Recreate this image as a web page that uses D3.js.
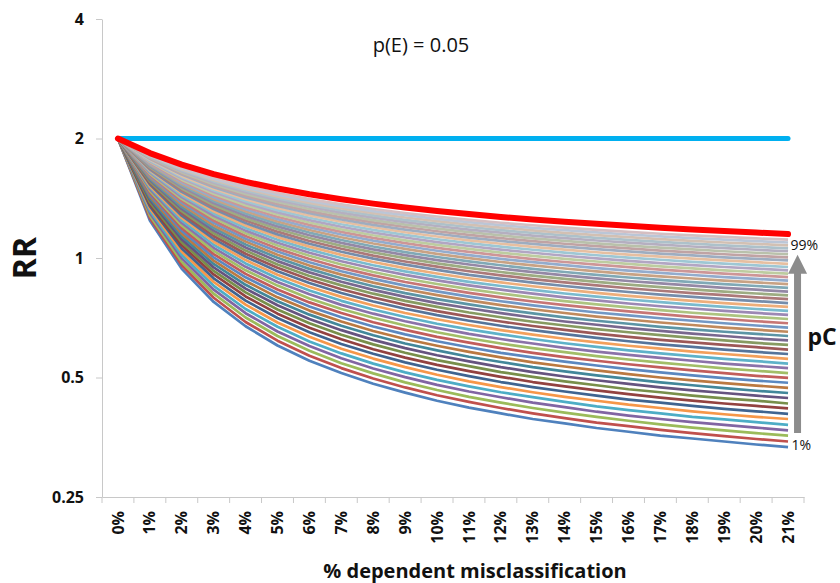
<!DOCTYPE html>
<html lang="en">
<head>
<meta charset="UTF-8">
<title>RR vs % dependent misclassification</title>
<style>
  body { margin: 0; background: #fff; }
  svg text { font-family: "Open Sans", "Liberation Sans", sans-serif; fill: #111; }
  .axis path, .axis line { stroke: #c8c8c8; }
</style>
</head>
<body>
<svg id="chart" width="840" height="583"></svg>
<script src="https://cdn.jsdelivr.net/npm/d3@7"></script>
<script>
// x categories: % dependent misclassification
const categories = ["0%","1%","2%","3%","4%","5%","6%","7%","8%","9%","10%",
  "11%","12%","13%","14%","15%","16%","17%","18%","19%","20%","21%"];
const yTicks = [0.25, 0.5, 1, 2, 4];

// true RR (blue line)
const trueRR = [2,2,2,2,2,2,2,2,2,2,2,2,2,2,2,2,2,2,2,2,2,2];

// red line
const independentRR = [2,1.838,1.719,1.627,1.555,1.496,1.447,1.406,1.371,1.340,1.314,1.290,1.269,1.251,1.234,1.219,1.205,1.192,1.180,1.169,1.159,1.149];

// pC of each drawn line, bottom (1%) to top (99%)
const pcLevels = [1,3,5,7,9,11,13,15,17,19,21,23,25,27,29,31,33,35,37,39,41,43,45,47,49,
  51,53,55,57,59,61,63,65,67,69,71,73,75,77,79,81,83,85,87,89,91,93,95,97,99];

const dependentRR = [
  [2,1.243,0.939,0.775,0.673,0.602,0.551,0.513,0.482,0.458,0.437,0.420,0.406,0.393,0.383,0.373,0.365,0.357,0.351,0.345,0.339,0.334],
  [2,1.261,0.959,0.794,0.690,0.619,0.567,0.528,0.497,0.472,0.451,0.434,0.419,0.406,0.395,0.385,0.377,0.369,0.362,0.356,0.350,0.345],
  [2,1.280,0.978,0.813,0.708,0.636,0.584,0.543,0.512,0.486,0.465,0.447,0.432,0.419,0.408,0.398,0.389,0.381,0.374,0.368,0.362,0.357],
  [2,1.298,0.998,0.832,0.726,0.653,0.600,0.559,0.527,0.501,0.479,0.461,0.446,0.432,0.421,0.410,0.401,0.393,0.386,0.380,0.374,0.368],
  [2,1.315,1.017,0.851,0.744,0.671,0.616,0.575,0.542,0.515,0.493,0.475,0.459,0.446,0.434,0.423,0.414,0.406,0.398,0.392,0.386,0.380],
  [2,1.333,1.037,0.870,0.763,0.688,0.633,0.591,0.558,0.531,0.508,0.489,0.473,0.459,0.447,0.437,0.427,0.419,0.411,0.404,0.398,0.393],
  [2,1.350,1.057,0.889,0.781,0.706,0.650,0.607,0.574,0.546,0.523,0.504,0.487,0.473,0.461,0.450,0.440,0.432,0.424,0.417,0.411,0.405],
  [2,1.367,1.076,0.909,0.800,0.724,0.667,0.624,0.589,0.561,0.538,0.519,0.502,0.487,0.475,0.464,0.454,0.445,0.437,0.430,0.424,0.418],
  [2,1.383,1.095,0.928,0.819,0.742,0.685,0.641,0.606,0.577,0.553,0.534,0.516,0.502,0.489,0.478,0.467,0.459,0.450,0.443,0.437,0.430],
  [2,1.400,1.114,0.947,0.837,0.760,0.702,0.658,0.622,0.593,0.569,0.549,0.531,0.516,0.503,0.492,0.482,0.472,0.464,0.457,0.450,0.444],
  [2,1.416,1.133,0.966,0.856,0.778,0.720,0.675,0.639,0.609,0.585,0.564,0.547,0.531,0.518,0.506,0.496,0.486,0.478,0.470,0.463,0.457],
  [2,1.431,1.152,0.985,0.875,0.796,0.737,0.692,0.655,0.625,0.601,0.580,0.562,0.546,0.533,0.521,0.510,0.500,0.492,0.484,0.477,0.471],
  [2,1.447,1.170,1.004,0.894,0.815,0.755,0.709,0.672,0.642,0.617,0.596,0.577,0.562,0.548,0.536,0.525,0.515,0.506,0.498,0.491,0.485],
  [2,1.462,1.189,1.023,0.912,0.833,0.773,0.727,0.689,0.659,0.633,0.612,0.593,0.577,0.563,0.551,0.540,0.530,0.521,0.513,0.505,0.499],
  [2,1.477,1.207,1.042,0.931,0.852,0.791,0.744,0.707,0.676,0.650,0.628,0.609,0.593,0.579,0.566,0.555,0.545,0.536,0.527,0.520,0.513],
  [2,1.491,1.225,1.061,0.950,0.870,0.810,0.762,0.724,0.693,0.667,0.644,0.625,0.609,0.594,0.581,0.570,0.560,0.551,0.542,0.535,0.528],
  [2,1.506,1.243,1.080,0.969,0.889,0.828,0.780,0.742,0.710,0.683,0.661,0.642,0.625,0.610,0.597,0.585,0.575,0.566,0.557,0.550,0.542],
  [2,1.519,1.261,1.099,0.988,0.907,0.846,0.798,0.759,0.727,0.701,0.678,0.658,0.641,0.626,0.613,0.601,0.591,0.581,0.573,0.565,0.557],
  [2,1.533,1.278,1.117,1.007,0.926,0.865,0.816,0.777,0.745,0.718,0.695,0.675,0.658,0.643,0.629,0.617,0.606,0.597,0.588,0.580,0.573],
  [2,1.546,1.295,1.136,1.025,0.945,0.883,0.834,0.795,0.762,0.735,0.712,0.692,0.674,0.659,0.645,0.633,0.622,0.613,0.604,0.596,0.588],
  [2,1.559,1.312,1.154,1.044,0.963,0.901,0.853,0.813,0.780,0.753,0.729,0.709,0.691,0.676,0.662,0.650,0.639,0.629,0.620,0.611,0.604],
  [2,1.572,1.329,1.172,1.063,0.982,0.920,0.871,0.831,0.798,0.770,0.747,0.726,0.708,0.692,0.679,0.666,0.655,0.645,0.636,0.627,0.620],
  [2,1.584,1.345,1.190,1.081,1.001,0.939,0.889,0.849,0.816,0.788,0.764,0.743,0.725,0.709,0.695,0.683,0.671,0.661,0.652,0.644,0.636],
  [2,1.597,1.362,1.208,1.100,1.019,0.957,0.908,0.867,0.834,0.806,0.782,0.761,0.743,0.727,0.712,0.700,0.688,0.678,0.668,0.660,0.652],
  [2,1.608,1.378,1.226,1.118,1.038,0.976,0.926,0.886,0.852,0.824,0.799,0.778,0.760,0.744,0.729,0.717,0.705,0.695,0.685,0.676,0.668],
  [2,1.620,1.393,1.243,1.136,1.056,0.994,0.944,0.904,0.870,0.842,0.817,0.796,0.777,0.761,0.747,0.734,0.722,0.711,0.702,0.693,0.685],
  [2,1.631,1.409,1.261,1.154,1.075,1.013,0.963,0.922,0.888,0.860,0.835,0.814,0.795,0.779,0.764,0.751,0.739,0.728,0.719,0.710,0.702],
  [2,1.642,1.424,1.278,1.172,1.093,1.031,0.981,0.941,0.907,0.878,0.853,0.832,0.813,0.796,0.782,0.768,0.756,0.746,0.736,0.727,0.719],
  [2,1.653,1.439,1.295,1.190,1.111,1.050,1.000,0.959,0.925,0.896,0.871,0.850,0.831,0.814,0.799,0.786,0.774,0.763,0.753,0.744,0.736],
  [2,1.663,1.454,1.311,1.208,1.129,1.068,1.018,0.977,0.943,0.914,0.889,0.868,0.849,0.832,0.817,0.803,0.791,0.780,0.770,0.761,0.753],
  [2,1.673,1.468,1.328,1.225,1.147,1.086,1.037,0.996,0.962,0.933,0.907,0.886,0.867,0.850,0.835,0.821,0.809,0.798,0.788,0.779,0.770],
  [2,1.683,1.483,1.344,1.243,1.165,1.104,1.055,1.014,0.980,0.951,0.926,0.904,0.885,0.868,0.853,0.839,0.827,0.816,0.806,0.796,0.788],
  [2,1.693,1.497,1.360,1.260,1.183,1.123,1.073,1.033,0.999,0.969,0.944,0.922,0.903,0.886,0.871,0.857,0.845,0.834,0.823,0.814,0.805],
  [2,1.703,1.511,1.376,1.277,1.201,1.141,1.092,1.051,1.017,0.988,0.963,0.941,0.921,0.904,0.889,0.875,0.863,0.852,0.841,0.832,0.823],
  [2,1.712,1.524,1.392,1.294,1.219,1.159,1.110,1.069,1.035,1.006,0.981,0.959,0.939,0.922,0.907,0.893,0.881,0.869,0.859,0.850,0.841],
  [2,1.721,1.537,1.407,1.311,1.236,1.176,1.128,1.088,1.054,1.024,0.999,0.977,0.958,0.941,0.925,0.911,0.899,0.888,0.877,0.868,0.859],
  [2,1.729,1.550,1.422,1.327,1.253,1.194,1.146,1.106,1.072,1.043,1.017,0.995,0.976,0.959,0.943,0.929,0.917,0.906,0.895,0.886,0.877],
  [2,1.738,1.563,1.437,1.343,1.270,1.212,1.164,1.124,1.090,1.061,1.036,1.014,0.994,0.977,0.962,0.948,0.935,0.924,0.913,0.904,0.895],
  [2,1.746,1.575,1.452,1.359,1.287,1.229,1.181,1.141,1.108,1.079,1.054,1.032,1.012,0.995,0.980,0.966,0.953,0.942,0.931,0.922,0.913],
  [2,1.754,1.587,1.466,1.375,1.303,1.246,1.199,1.159,1.126,1.097,1.072,1.050,1.031,1.013,0.998,0.984,0.971,0.960,0.949,0.940,0.931],
  [2,1.762,1.599,1.481,1.391,1.320,1.263,1.216,1.177,1.144,1.115,1.090,1.068,1.049,1.032,1.016,1.002,0.990,0.978,0.968,0.958,0.949],
  [2,1.769,1.610,1.494,1.406,1.336,1.280,1.234,1.195,1.161,1.133,1.108,1.086,1.067,1.050,1.034,1.020,1.008,0.996,0.986,0.976,0.967],
  [2,1.777,1.622,1.508,1.421,1.352,1.297,1.251,1.212,1.179,1.151,1.126,1.104,1.085,1.068,1.053,1.039,1.026,1.015,1.004,0.995,0.986],
  [2,1.784,1.633,1.521,1.436,1.368,1.313,1.267,1.229,1.197,1.168,1.144,1.122,1.103,1.086,1.071,1.057,1.044,1.033,1.022,1.012,1.004],
  [2,1.790,1.643,1.534,1.450,1.384,1.329,1.284,1.246,1.214,1.186,1.162,1.140,1.121,1.104,1.089,1.075,1.062,1.051,1.040,1.031,1.022],
  [2,1.797,1.654,1.547,1.465,1.399,1.346,1.301,1.264,1.231,1.204,1.179,1.158,1.139,1.122,1.107,1.093,1.081,1.069,1.059,1.049,1.040],
  [2,1.804,1.664,1.560,1.479,1.414,1.361,1.317,1.280,1.248,1.221,1.197,1.175,1.157,1.140,1.124,1.111,1.098,1.087,1.076,1.067,1.058],
  [2,1.810,1.674,1.572,1.493,1.429,1.377,1.333,1.297,1.265,1.238,1.214,1.193,1.174,1.157,1.142,1.129,1.116,1.105,1.094,1.085,1.076],
  [2,1.816,1.684,1.584,1.506,1.443,1.392,1.349,1.313,1.282,1.255,1.231,1.210,1.191,1.175,1.160,1.146,1.134,1.122,1.112,1.103,1.094],
  [2,1.822,1.693,1.596,1.519,1.458,1.407,1.365,1.329,1.298,1.272,1.248,1.227,1.209,1.192,1.177,1.164,1.151,1.140,1.130,1.120,1.112]
];

// office-style series colours
const palette = ["#4F81BD", "#C0504D", "#9BBB59", "#8064A2", "#4BACC6", "#F79646"];

const svg = d3.select("#chart");
const margin = { top: 19, right: 36, bottom: 86, left: 102 };
const width = 840 - margin.left - margin.right;
const height = 583 - margin.top - margin.bottom;

const x = d3.scaleBand().domain(categories).range([0, width]);
const y = d3.scaleLog().base(2).domain([0.25, 4]).range([height, 0]);
const cx = (d, i) => x(categories[i]) + x.bandwidth() / 2;

const g = svg.append("g").attr("transform", `translate(${margin.left},${margin.top})`);

// y axis
g.append("g")
  .attr("class", "axis")
  .call(d3.axisLeft(y).tickValues(yTicks).tickFormat(d => d).tickSize(6).tickSizeOuter(0).tickPadding(12))
  .call(a => a.selectAll("text").attr("font-size", 16).attr("font-weight", "bold").attr("fill", "#111"));

// x axis
const xAxis = g.append("g")
  .attr("class", "axis")
  .attr("transform", `translate(0,${height})`)
  .call(d3.axisBottom(x).tickSize(0).tickSizeOuter(0));
xAxis.selectAll("text")
  .attr("transform", "rotate(-90)")
  .attr("text-anchor", "end")
  .attr("x", -14)
  .attr("y", 0)
  .attr("dy", "0.35em")
  .attr("font-size", 16)
  .attr("font-weight", "bold")
  .attr("fill", "#111");
// tick marks between categories
xAxis.selectAll(".cat-tick")
  .data(categories.map(c => x(c)).concat([width]))
  .enter().append("line")
  .attr("x1", d => d).attr("x2", d => d)
  .attr("y1", 0).attr("y2", 6)
  .attr("stroke", "#c8c8c8");

// colour for each line of the fan
function lineColor(j, n) {
  let c = palette[j % 6];
  if (Math.floor(j / 6) % 2 === 1) c = d3.interpolateRgb(c, "#000")(0.25);
  const t = 0.8 * Math.pow(j / (n - 1), 1.6);
  return d3.interpolateRgb(c, "#dadade")(t);
}

const line = d3.line().x(cx).y(d => y(d));

g.append("g").selectAll("path")
  .data(dependentRR)
  .enter().append("path")
  .attr("d", line)
  .attr("fill", "none")
  .attr("stroke", (d, j) => lineColor(j, dependentRR.length))
  .attr("stroke-width", 2.7)
  .attr("stroke-linejoin", "round");

g.append("path")
  .datum(trueRR)
  .attr("d", line)
  .attr("fill", "none")
  .attr("stroke", "#00B0F0")
  .attr("stroke-width", 5)
  .attr("stroke-linecap", "round");

g.append("path")
  .datum(independentRR)
  .attr("d", line)
  .attr("fill", "none")
  .attr("stroke", "#FF0000")
  .attr("stroke-width", 6)
  .attr("stroke-linecap", "round")
  .attr("stroke-linejoin", "round");

// pC arrow on the right
const last = categories.length - 1;
const ax = cx(null, last) + 9.5;
const yLow = y(dependentRR[0][last]);
const yHigh = y(dependentRR[dependentRR.length - 1][last]);
const ann = g.append("g");
ann.append("line")
  .attr("x1", ax).attr("x2", ax)
  .attr("y1", yLow - 14).attr("y2", yHigh + 32)
  .attr("stroke", "#8c8c8c").attr("stroke-width", 7);
ann.append("path")
  .attr("d", `M${ax - 9.5},${yHigh + 34} L${ax + 9.5},${yHigh + 34} L${ax},${yHigh + 15} Z`)
  .attr("fill", "#8c8c8c");
ann.append("text")
  .attr("x", ax - 7).attr("y", yHigh + 5)
  .attr("font-size", 14).attr("dy", "0.35em")
  .text(pcLevels[pcLevels.length - 1] + "%");
ann.append("text")
  .attr("x", ax - 6).attr("y", yLow - 2)
  .attr("font-size", 14).attr("dy", "0.35em")
  .text(pcLevels[0] + "%");
ann.append("text")
  .attr("x", ax + 10).attr("y", 326)
  .attr("font-size", 23).attr("font-weight", "bold")
  .text("pC");

// titles
svg.append("text")
  .attr("x", 421).attr("y", 52)
  .attr("text-anchor", "middle")
  .attr("font-size", 20)
  .text("p(E) = 0.05");

svg.append("text")
  .attr("transform", "translate(25,258) rotate(-90)")
  .attr("text-anchor", "middle")
  .attr("dy", "0.35em")
  .attr("font-size", 32)
  .attr("font-weight", "bold")
  .text("RR");

svg.append("text")
  .attr("x", 475).attr("y", 578)
  .attr("text-anchor", "middle")
  .attr("font-size", 20)
  .attr("font-weight", "bold")
  .text("% dependent misclassification");
</script>
</body>
</html>
